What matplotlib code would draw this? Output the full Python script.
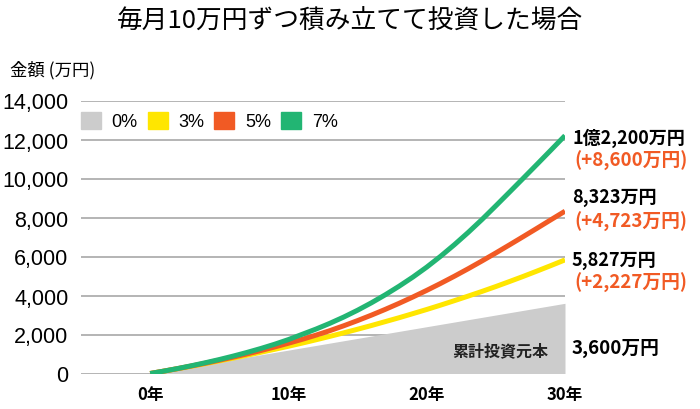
import matplotlib
matplotlib.use("Agg")
import matplotlib.pyplot as plt
from matplotlib.patches import Patch

# data (万円) at yearly points
years = list(range(0, 31))
principal = [0, 120, 240, 360, 480, 600, 720, 840, 960, 1080, 1200,
             1320, 1440, 1560, 1680, 1800, 1920, 2040, 2160, 2280, 2400,
             2520, 2640, 2760, 2880, 3000, 3120, 3240, 3360, 3480, 3600]
rate3 = [0, 122, 247, 375, 507, 646, 789, 935, 1087, 1240, 1397,
         1560, 1730, 1905, 2085, 2270, 2460, 2660, 2860, 3070, 3283,
         3505, 3735, 3970, 4210, 4460, 4720, 4985, 5260, 5540, 5827]
rate5 = [0, 123, 252, 388, 530, 680, 837, 1003, 1176, 1359, 1553,
         1753, 1968, 2198, 2448, 2713, 2993, 3288, 3598, 3923, 4263,
         4618, 4988, 5373, 5773, 6183, 6603, 7028, 7458, 7893, 8323]
rate7 = [0, 124, 257, 400, 553, 716, 892, 1080, 1282, 1500, 1740,
         2010, 2280, 2575, 2895, 3245, 3625, 4035, 4475, 4945, 5455,
         6010, 6605, 7235, 7900, 8600, 9310, 10025, 10745, 11470, 12200]

legend_labels = ["0%", "3%", "5%", "7%"]
xtick_pos = [0, 10, 20, 30]
xtick_labels = ["0年", "10年", "20年", "30年"]
ytick_pos = [0, 2000, 4000, 6000, 8000, 10000, 12000, 14000]

end_totals = ["1億2,200万円", "8,323万円", "5,827万円"]
end_gains = ["(+8,600万円)", "(+4,723万円)", "(+2,227万円)"]
principal_total = "3,600万円"

GRAY = "#cccccc"
YELLOW = "#ffe600"
ORANGE = "#f15a24"
GREEN = "#22b573"
JP = ["Noto Sans CJK JP", "DejaVu Sans"]

fig = plt.figure(figsize=(7, 4.1), dpi=100)
ax = fig.add_axes([81 / 700, 1 - 374.5 / 410, (565 - 81) / 700, 273 / 410])

ax.fill_between(years, 0, principal, color=GRAY, lw=0, zorder=2)
ax.plot(years, rate3, color=YELLOW, lw=3.6, zorder=3, solid_capstyle="butt")
ax.plot(years, rate5, color=ORANGE, lw=3.6, zorder=4, solid_capstyle="butt")
ax.plot(years, rate7, color=GREEN, lw=3.6, zorder=5, solid_capstyle="butt")

ax.set_xlim(-5, 30)
ax.set_ylim(0, 14000)
ax.set_yticks(ytick_pos)
ax.set_yticklabels([f"{v:,}" for v in ytick_pos],
                   fontsize=15.5, family="Liberation Sans")
ax.set_xticks(xtick_pos)
ax.set_xticklabels(xtick_labels, fontsize=12, family=JP, fontweight="bold")
ax.tick_params(length=0, pad=8)
ax.tick_params(axis="y", pad=9)
ax.grid(axis="y", color="#a8a8a8", lw=1.2, zorder=1)
for s in ax.spines.values():
    s.set_visible(False)

handles = [Patch(color=c) for c in (GRAY, YELLOW, ORANGE, GREEN)]
ax.legend(handles, legend_labels, loc="center left", bbox_to_anchor=(0, 0.925),
          ncol=4, frameon=False, handlelength=1.1,
          handleheight=1.1, handletextpad=0.6, columnspacing=0.55,
          borderpad=0, borderaxespad=0, prop={"family": "Liberation Sans", "size": 13})

ax.text(25.3, 1200, "累計投資元本", ha="center", va="center", fontsize=11.5,
        family=JP, fontweight="bold", color="#222222", zorder=6)

# titles
fig.text(0.5, 1 - 22 / 410, "毎月10万円ずつ積み立てて投資した場合", ha="center",
         va="center", fontsize=18.5, family=JP)
fig.text(10 / 700, 1 - 70 / 410, "金額 (万円)", ha="left", va="center",
         fontsize=12.5, family=JP)

# end labels
total_y = [138, 198, 260]
gain_y = [161, 222, 283]
for t, g, ty, gy in zip(end_totals, end_gains, total_y, gain_y):
    fig.text(572 / 700, 1 - ty / 410, t, ha="left", va="center", fontsize=13,
             family=JP, fontweight="bold", color="black")
    fig.text(574 / 700, 1 - gy / 410, g, ha="left", va="center", fontsize=13.5,
             family=JP, fontweight="bold", color=ORANGE)
fig.text(572 / 700, 1 - 348 / 410, principal_total, ha="left", va="center",
         fontsize=13.5, family=JP, fontweight="bold", color="black")

fig.savefig("out.png", dpi=100)
